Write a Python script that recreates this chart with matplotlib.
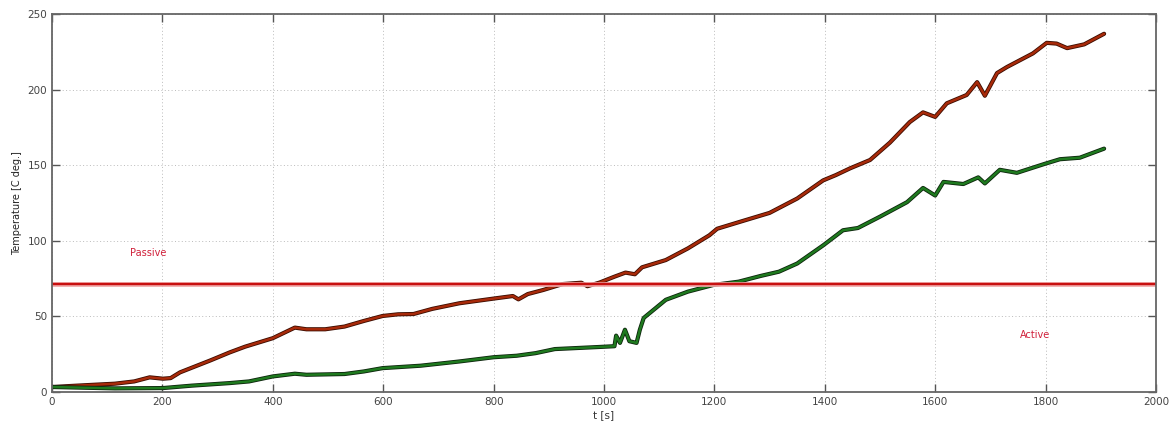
import numpy as np
import matplotlib
matplotlib.use("Agg")
from matplotlib import pyplot as plt
import matplotlib.patheffects as pe

# passive (no cooling) temperature curve
t_passive = [0, 45, 114, 149, 177, 201, 215, 232, 287, 322, 350, 400, 440, 461, 495, 530,
             565, 599, 627, 655, 689, 738, 800, 835, 845, 862, 890, 925, 959, 970, 992,
             1019, 1039, 1056, 1069, 1112, 1152, 1191, 1205, 1250, 1300, 1350, 1397, 1420,
             1446, 1482, 1518, 1554, 1578, 1600, 1621, 1657, 1676, 1690, 1712, 1730, 1777,
             1802, 1820, 1839, 1870, 1906]
T_passive = [3.3, 4.2, 5.5, 7.0, 9.7, 8.8, 9.2, 13.0, 20.9, 26.2, 30.0, 35.6, 42.6, 41.5, 41.5,
             43.3, 47.0, 50.3, 51.4, 51.6, 55.0, 58.7, 61.8, 63.5, 61.3, 64.8, 67.5, 71.4, 72.3,
             70.0, 72.4, 76.3, 79.0, 77.9, 82.5, 87.3, 95.0, 103.7, 108.0, 113.0, 118.5, 128.0,
             140.0, 143.5, 148.0, 153.5, 165.0, 178.6, 185.0, 182.0, 191.0, 196.5, 205.0, 196.0,
             211.0, 215.0, 224.0, 231.0, 230.5, 227.5, 230.0, 237.0]

# active (cooled) temperature curve
t_active = [0, 114, 201, 253, 322, 357, 400, 440, 461, 530, 565, 599, 668, 738, 800, 842,
            876, 911, 992, 1019, 1022, 1029, 1038, 1046, 1059, 1065, 1072, 1112, 1152, 1198,
            1244, 1284, 1317, 1350, 1397, 1433, 1460, 1500, 1549, 1578, 1600, 1615, 1651,
            1678, 1690, 1717, 1748, 1799, 1826, 1862, 1906]
T_active = [3.3, 2.4, 2.6, 4.2, 5.9, 7.0, 10.3, 12.1, 11.4, 11.9, 13.6, 15.8, 17.4, 20.2, 23.0,
            24.0, 25.7, 28.4, 29.8, 30.3, 37.3, 32.5, 41.2, 33.6, 32.5, 41.2, 49.0, 61.0, 66.4,
            70.8, 73.0, 76.8, 79.6, 85.0, 97.0, 107.0, 108.5, 116.0, 125.6, 135.0, 130.0, 139.0,
            137.6, 142.0, 138.0, 147.0, 145.0, 151.0, 154.0, 155.0, 161.0]

threshold = 71.5

fig = plt.figure(figsize=(11.73, 4.28), dpi=100)
ax = fig.add_axes([0.0443, 0.0841, 0.9412, 0.8829])

edge = [pe.Stroke(linewidth=3.0, foreground="#3a0c00"), pe.Normal()]
ax.plot(t_passive, T_passive, color="#a82a0a", lw=1.8, path_effects=edge,
        solid_joinstyle="round", solid_capstyle="round")
edge_g = [pe.Stroke(linewidth=3.0, foreground="#0c240c"), pe.Normal()]
ax.plot(t_active, T_active, color="#1f7a1f", lw=1.8, path_effects=edge_g,
        solid_joinstyle="round", solid_capstyle="round")

ax.axhline(threshold, color="#f0a8a8", lw=3.4)
ax.axhline(threshold, color="#c81010", lw=1.7)

ax.text(175, 92, "Passive", color="#d0203a", fontsize=7, ha="center", va="center")
ax.text(1780, 37.5, "Active", color="#d0203a", fontsize=7, ha="center", va="center")

ax.set_xlim(0, 2000)
ax.set_ylim(0, 250)
ax.set_xticks(np.arange(0, 2001, 200))
ax.set_yticks(np.arange(0, 251, 50))
ax.grid(True, color="#bbbbbb", linestyle=(0, (1, 2.5)), lw=0.7)
ax.tick_params(direction="in", top=True, right=True, length=6, width=1.0,
               color="#555555", labelsize=7.5, labelcolor="#444444")
for s in ax.spines.values():
    s.set_color("#666666")
    s.set_linewidth(1.3)

ax.set_xlabel("t [s]", fontsize=7.5, color="#333333", labelpad=2)
ax.set_ylabel("Temperature [C deg.]", fontsize=7, color="#222222", labelpad=4)

fig.savefig("out.png", dpi=100)
